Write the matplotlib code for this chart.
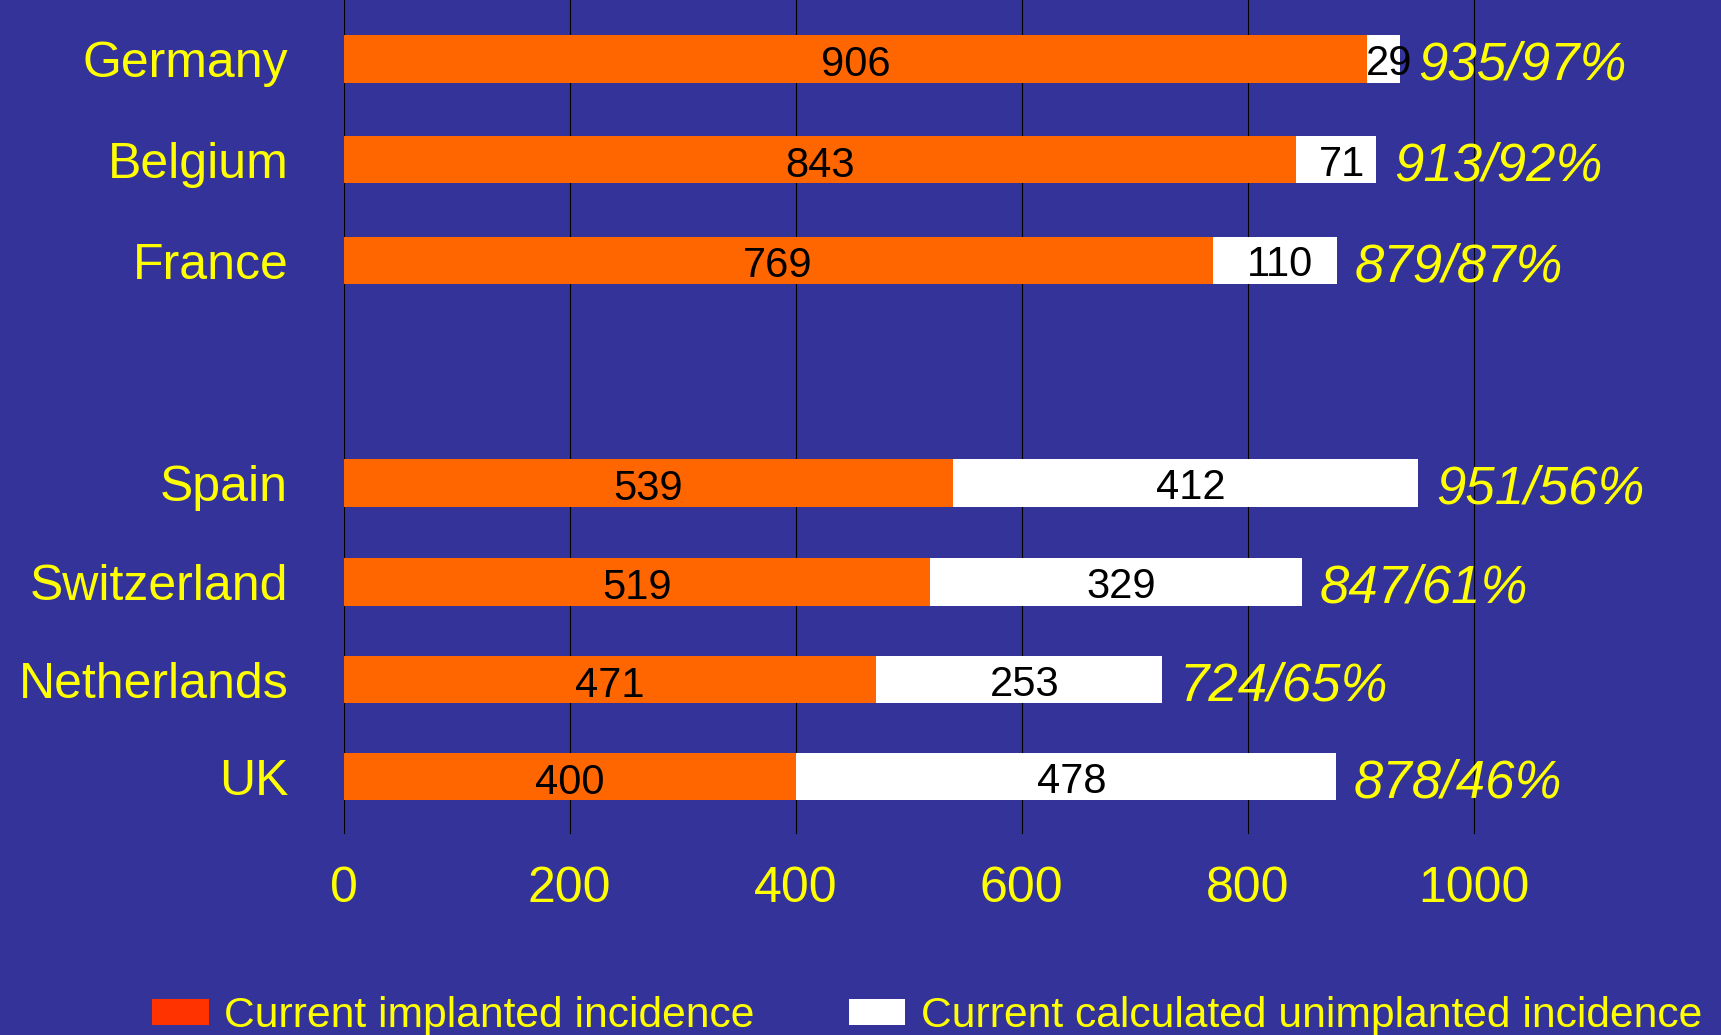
import matplotlib
matplotlib.use("Agg")
import matplotlib.pyplot as plt
from matplotlib.patches import Patch

plt.rcParams['font.family'] = ['Liberation Sans', 'DejaVu Sans']

# data, top row first
countries = ["Germany", "Belgium", "France", "Spain", "Switzerland", "Netherlands", "UK"]
implanted = [906, 843, 769, 539, 519, 471, 400]
unimplanted = [29, 71, 110, 412, 329, 253, 478]
totals = [935, 913, 879, 951, 847, 724, 878]
pcts = [97, 92, 87, 56, 61, 65, 46]
xticks = [0, 200, 400, 600, 800, 1000]

# row positions (gap between the two groups)
ypos = [7.26, 6.24, 5.22, 2.97, 1.97, 0.98, 0]

bg = "#333399"
orange = "#FF6600"
yellow = "#FFFF00"

fig = plt.figure(figsize=(17.21, 10.35), dpi=100, facecolor=bg)
ax = fig.add_axes([0.1997, 0.1942, 0.8003, 0.8058])
ax.set_facecolor(bg)

ax.barh(ypos, implanted, height=0.48, color=orange, zorder=3)
ax.barh(ypos, unimplanted, left=implanted, height=0.48, color="white", zorder=3)

for y, a, b, t, p in zip(ypos, implanted, unimplanted, totals, pcts):
    ax.text(a / 2, y - 0.06, str(a), ha="center", va="center", fontsize=30, color="black", zorder=4)
    ax.text(a + b / 2 + 5, y - 0.05, str(b), ha="center", va="center", fontsize=30, color="black", zorder=4)
    ax.annotate(f"{t}/{p}%", (a + b, y), xytext=(13, -5), textcoords="offset points",
                ha="left", va="center", fontsize=38, style="italic", color=yellow)

ax.set_xlim(0, 1219)
ax.set_ylim(-0.58, 7.855)
ax.set_xticks(xticks)
ax.set_xticklabels([str(v) for v in xticks])
ax.set_yticks(ypos)
ax.set_yticklabels(countries)
ax.tick_params(axis="x", length=0, pad=23, labelsize=36, labelcolor=yellow)
ax.tick_params(axis="y", length=0, pad=40, labelsize=36, labelcolor=yellow)
for s in ax.spines.values():
    s.set_visible(False)
ax.grid(axis="x", color="black", linewidth=0.8, zorder=0)
ax.set_axisbelow(True)

handles = [Patch(facecolor="#FF3300", edgecolor="none", label="Current implanted incidence"),
           Patch(facecolor="white", edgecolor="none", label="Current calculated unimplanted incidence")]
leg = fig.legend(handles=handles, loc="center left", bbox_to_anchor=(0.0885, 1 - 1016 / 1035),
                 ncol=2, frameon=False, fontsize=30.7, handlelength=1.33, handleheight=0.55,
                 handletextpad=0.36, columnspacing=2.2, borderaxespad=0, borderpad=0)
for txt in leg.get_texts():
    txt.set_color(yellow)

fig.savefig("out.png", dpi=100, facecolor=bg)
